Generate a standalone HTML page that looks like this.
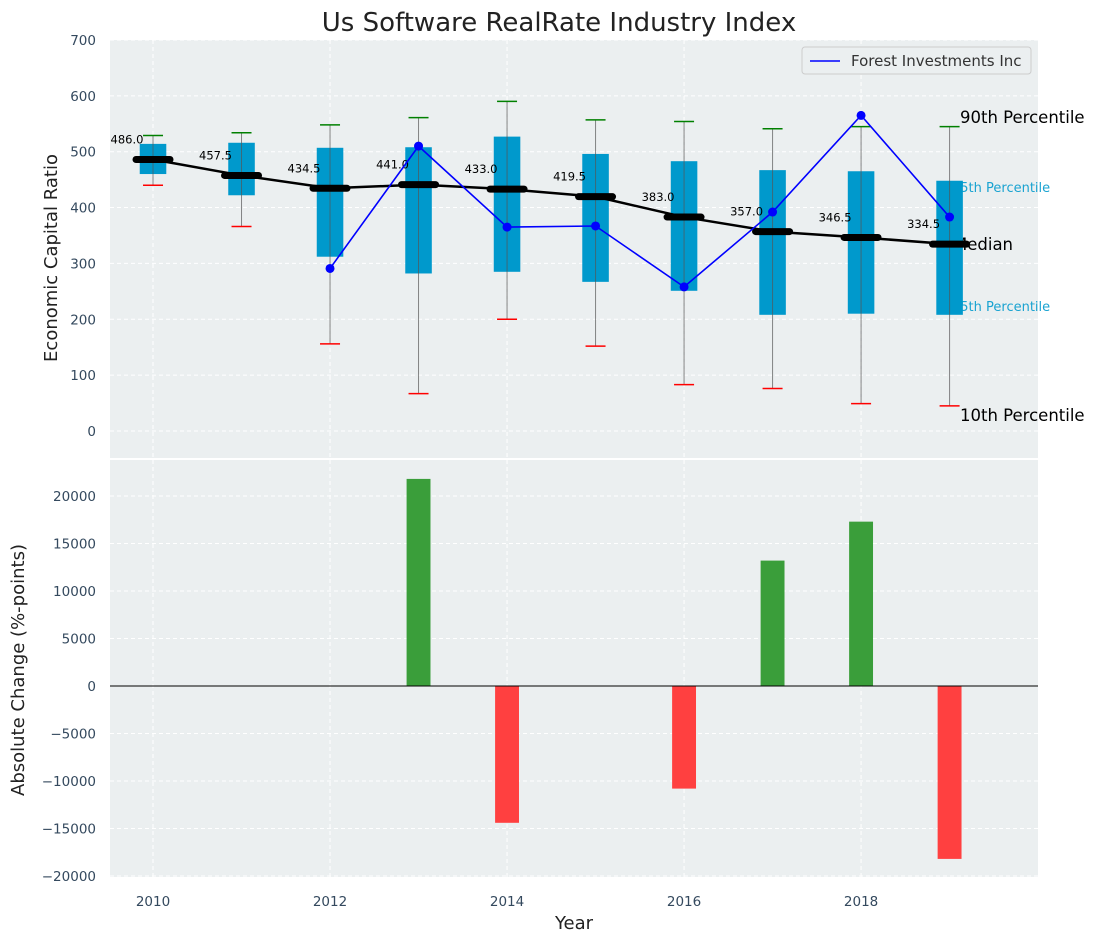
<!DOCTYPE html>
<html><head><meta charset="utf-8"><style>
body{margin:0;background:#fff}
svg text{font-family:"DejaVu Sans","Liberation Sans",sans-serif}
</style></head><body>
<svg id="c" width="1095" height="942" xmlns="http://www.w3.org/2000/svg"></svg>
<script>
const years=[2010,2011,2012,2013,2014,2015,2016,2017,2018,2019];
const boxLow=[460,422,312,282,285,267,251,208,210,208];
const boxHigh=[514,516,507,508,527,496,483,467,465,448];
const p90=[529,534,548,561,590,557,554,541,545,545];
const p10=[440,366,156,67,200,152,83,76,49,45];
const medians=[486.0,457.5,434.5,441.0,433.0,419.5,383.0,357.0,346.5,334.5];
const companyYears=[2012,2013,2014,2015,2016,2017,2018,2019];
const companyVals=[291,510,365,367,258,392,565,383];
const changeYears=[2013,2014,2016,2017,2018,2019];
const changeVals=[21800,-14400,-10800,13200,17300,-18200];
const topTicks=[0,100,200,300,400,500,600,700];
const botTicks=[-20000,-15000,-10000,-5000,0,5000,10000,15000,20000];
const xTicks=[2010,2012,2014,2016,2018];

const svg=document.getElementById('c');
const NS='http://www.w3.org/2000/svg';
function el(tag,attrs,parent){const e=document.createElementNS(NS,tag);for(const k in attrs)e.setAttribute(k,attrs[k]);(parent||svg).appendChild(e);return e;}
const L=110,R=1038;
const xs=y=>L+(y-2009.514)*(R-L)/(2019.999-2009.514);
const T0=40,T1=458,ys=v=>431-v*0.5586;
const B0=460,B1=877,yb=v=>686-v*0.0095;
const tc='#34495e';

let bg=el('rect',{x:L,y:T0,width:R-L,height:T1-T0,fill:'#ebeff0'});

let bg2=el('rect',{x:L,y:B0,width:R-L,height:B1-B0,fill:'#ebeff0'});


xTicks.forEach(t=>{
  el('line',{x1:xs(t),x2:xs(t),y1:T0,y2:T1,stroke:'#fff','stroke-dasharray':'4,3','stroke-width':1});
  el('line',{x1:xs(t),x2:xs(t),y1:B0,y2:B1,stroke:'#fff','stroke-dasharray':'4,3','stroke-width':1});
  let tx=el('text',{x:xs(t),y:906,'text-anchor':'middle','font-size':13.5,fill:tc});tx.textContent=t;
  
});
topTicks.forEach(t=>{
  el('line',{x1:L,x2:R,y1:ys(t),y2:ys(t),stroke:'#fff','stroke-dasharray':'4,3','stroke-width':1});
  let tx=el('text',{x:96,y:ys(t)+5,'text-anchor':'end','font-size':13.5,fill:tc});tx.textContent=t;
  
});
botTicks.forEach(t=>{
  el('line',{x1:L,x2:R,y1:yb(t),y2:yb(t),stroke:'#fff','stroke-dasharray':'4,3','stroke-width':1});
  let tx=el('text',{x:96,y:yb(t)+5,'text-anchor':'end','font-size':13.5,fill:tc});tx.textContent=t.toString().replace('-','\u2212');
  
});

const rl=[['90th Percentile',960,123,16.5,'#000'],['75th Percentile',952,192,13,'#1aa3d1'],['Median',953,250,16.5,'#000'],['25th Percentile',952,311,13,'#1aa3d1'],['10th Percentile',960,421,16.5,'#000']];
rl.forEach(r=>{let t=el('text',{x:r[1],y:r[2],'font-size':r[3],fill:r[4]});t.textContent=r[0];
  });

const bw=(xs(1)-xs(0))*0.3;
years.forEach((y,i)=>{
  const x=xs(y);
  let b=el('rect',{x:x-bw/2,y:ys(boxHigh[i]),width:bw,height:ys(boxLow[i])-ys(boxHigh[i]),fill:'#0099cc'});
  
  let w=el('line',{x1:x,x2:x,y1:ys(p90[i]),y2:ys(p10[i]),stroke:'#555','stroke-width':1,opacity:0.7});
  
  let g=el('line',{x1:x-10,x2:x+10,y1:ys(p90[i]),y2:ys(p90[i]),stroke:'green','stroke-width':1.5});
  
  let r=el('line',{x1:x-10,x2:x+10,y1:ys(p10[i]),y2:ys(p10[i]),stroke:'red','stroke-width':1.5});
  
});
let mp=el('polyline',{points:years.map((y,i)=>xs(y)+','+ys(medians[i])).join(' '),fill:'none',stroke:'#000','stroke-width':2.5});

years.forEach((y,i)=>{
  let m=el('line',{x1:xs(y)-17,x2:xs(y)+17,y1:ys(medians[i]),y2:ys(medians[i]),stroke:'#000','stroke-width':7,'stroke-linecap':'round'});
  
  let t=el('text',{x:xs(y)-26,y:ys(medians[i])-16,'text-anchor':'middle','font-size':11.5,fill:'#000'});t.textContent=medians[i].toFixed(1);
  
});
let cl=el('polyline',{points:companyYears.map((y,i)=>xs(y)+','+ys(companyVals[i])).join(' '),fill:'none',stroke:'#0000ff','stroke-width':1.6});

companyYears.forEach((y,i)=>{let c=el('circle',{cx:xs(y),cy:ys(companyVals[i]),r:4.5,fill:'#0000ff'});
  });

const lg=el('g',{});
el('rect',{x:802,y:47,width:229,height:27,rx:3,fill:'#ebeff0',stroke:'#ccc'},lg);
el('line',{x1:810,x2:840,y1:61,y2:61,stroke:'#0000ff','stroke-width':1.6},lg);
let lt=el('text',{x:851,y:66,'font-size':15,fill:'#333'},lg);lt.textContent='Forest Investments Inc';


const barW=(xs(1)-xs(0))*0.27;
changeYears.forEach((y,i)=>{const v=changeVals[i];
  let b=el('rect',{x:xs(y)-barW/2,y:Math.min(yb(v),yb(0)),width:barW,height:Math.abs(yb(v)-yb(0)),fill:v>=0?'#3a9e3a':'#ff4040'});
  });
el('line',{x1:L,x2:R,y1:yb(0),y2:yb(0),stroke:'#000','stroke-width':1});

let ti=el('text',{x:559,y:31,'text-anchor':'middle','font-size':26,fill:'#222'});ti.textContent='Us Software RealRate Industry Index';

let yl=el('text',{x:0,y:0,transform:'translate(57,258) rotate(-90)','text-anchor':'middle','font-size':18,fill:'#222'});yl.textContent='Economic Capital Ratio';

let yl2=el('text',{x:0,y:0,transform:'translate(24,670) rotate(-90)','text-anchor':'middle','font-size':18,fill:'#222'});yl2.textContent='Absolute Change (%-points)';

let xl=el('text',{x:574,y:929,'text-anchor':'middle','font-size':18,fill:'#222'});xl.textContent='Year';

</script>
</body></html>
